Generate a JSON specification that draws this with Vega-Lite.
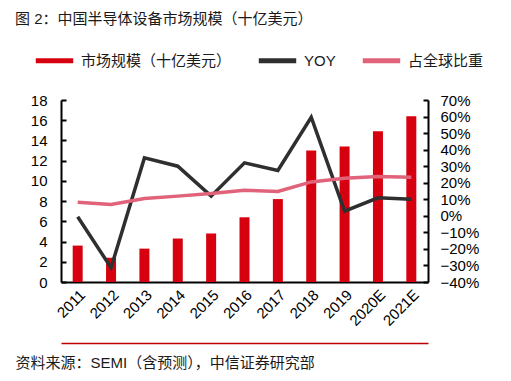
{
  "$schema": "https://vega.github.io/schema/vega-lite/v6.json",
  "width": 367,
  "height": 182,
  "autosize": {"type": "none"},
  "padding": {"left": 61, "top": 100, "right": 83, "bottom": 99},
  "background": "white",
  "config": {
    "font": "Liberation Sans, Noto Sans CJK SC",
    "view": {"stroke": null},
    "axis": {"labelFont": "Liberation Sans, Noto Sans CJK SC", "labelFontSize": 15, "labelColor": "#000000", "domainColor": "#000000", "domainWidth": 2, "tickColor": "#000000", "tickWidth": 2, "grid": false, "labelOverlap": false}
  },
  "title": {
    "text": "图 2：中国半导体设备市场规模（十亿美元）",
    "anchor": "start",
    "frame": "group",
    "dx": -46,
    "offset": 12,
    "fontSize": 15,
    "fontWeight": "normal",
    "font": "Liberation Sans, Noto Sans CJK SC",
    "color": "#1a1a1a"
  },
  "data": {
    "values": [
      {"year": "2011", "size": 3.6, "YOY": -0.006, "占全球比重": 0.082},
      {"year": "2012", "size": 2.4, "YOY": -0.314, "占全球比重": 0.068},
      {"year": "2013", "size": 3.3, "YOY": 0.35, "占全球比重": 0.105},
      {"year": "2014", "size": 4.3, "YOY": 0.30, "占全球比重": 0.119},
      {"year": "2015", "size": 4.8, "YOY": 0.119, "占全球比重": 0.135},
      {"year": "2016", "size": 6.4, "YOY": 0.32, "占全球比重": 0.155},
      {"year": "2017", "size": 8.2, "YOY": 0.274, "占全球比重": 0.147},
      {"year": "2018", "size": 13.0, "YOY": 0.596, "占全球比重": 0.205},
      {"year": "2019", "size": 13.4, "YOY": 0.028, "占全球比重": 0.227},
      {"year": "2020E", "size": 14.9, "YOY": 0.109, "占全球比重": 0.237},
      {"year": "2021E", "size": 16.4, "YOY": 0.10, "占全球比重": 0.233}
    ]
  },
  "layer": [
    {
      "mark": {"type": "bar", "width": 10},
      "encoding": {
        "x": {
          "field": "year", "type": "ordinal", "sort": null,
          "scale": {"paddingInner": 0.7, "paddingOuter": 0.35},
          "axis": {
            "labelAngle": -45, "ticks": false, "labelPadding": 5,
            "title": "资料来源：SEMI（含预测），中信证券研究部",
            "titleAnchor": "start", "titleAlign": "left", "titleX": -46, "titleY": 80,
            "titleBaseline": "middle", "titleFontSize": 15, "titleFontWeight": "normal",
            "titleFont": "Liberation Sans, Noto Sans CJK SC", "titleColor": "#1a1a1a"
          }
        },
        "y": {
          "field": "size", "type": "quantitative",
          "scale": {"domain": [0, 18], "nice": false},
          "axis": {"values": [0, 2, 4, 6, 8, 10, 12, 14, 16, 18], "title": null, "tickSize": -5, "labelPadding": 19}
        },
        "color": {
          "datum": "市场规模（十亿美元）",
          "title": null,
          "scale": {"domain": ["市场规模（十亿美元）", "YOY", "占全球比重"], "range": ["#D7000F", "#2F2F2F", "#E0637A"]},
          "legend": {
            "orient": "none", "legendX": -28, "legendY": -61, "direction": "horizontal",
            "title": null, "symbolType": "stroke", "symbolSize": 1400, "symbolStrokeWidth": 5,
            "labelFontSize": 15, "labelFont": "Liberation Sans, Noto Sans CJK SC", "labelColor": "#1a1a1a",
            "columnPadding": 16, "labelOffset": 5
          }
        }
      }
    },
    {
      "transform": [{"fold": ["YOY", "占全球比重"], "as": ["series", "value"]}],
      "mark": {"type": "line", "strokeWidth": 3.5},
      "encoding": {
        "x": {"field": "year", "type": "ordinal", "sort": null, "axis": null},
        "y": {
          "field": "value", "type": "quantitative",
          "scale": {"domain": [-0.4, 0.7], "nice": false},
          "axis": {"orient": "right", "values": [-0.4, -0.3, -0.2, -0.1, 0, 0.1, 0.2, 0.3, 0.4, 0.5, 0.6, 0.7], "format": ".0%", "title": null, "tickSize": -5, "labelPadding": 17, "labelOverlap": false}
        },
        "color": {"field": "series", "type": "nominal", "title": null}
      }
    },
    {
      "mark": {"type": "bar", "opacity": 0},
      "encoding": {
        "x": {
          "field": "year", "type": "ordinal", "sort": null,
          "axis": {"orient": "bottom", "offset": 61, "domainColor": "#C00000", "domainWidth": 1.5, "labels": false, "ticks": false, "title": null}
        }
      }
    }
  ],
  "resolve": {"scale": {"y": "independent"}, "axis": {"x": "independent"}}
}
